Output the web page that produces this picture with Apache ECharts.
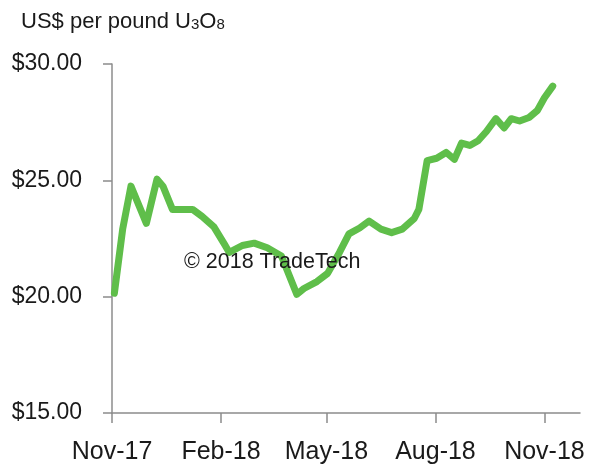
<!DOCTYPE html>
<html>
<head>
<meta charset="utf-8">
<title>U3O8 spot price</title>
<script src="https://cdn.jsdelivr.net/npm/echarts@6/dist/echarts.min.js"></script>
<style>
  html, body { margin: 0; padding: 0; background: #fff; }
  #chart { width: 589px; height: 471px; }
</style>
</head>
<body>
<div id="chart"></div>
<script>
// weekly spot price readings (US$ per pound U3O8)
var priceDates = [
  '2017-11-03', '2017-11-10', '2017-11-17', '2017-11-30', '2017-12-09', '2017-12-14',
  '2017-12-22', '2018-01-08', '2018-01-16', '2018-01-26', '2018-02-04', '2018-02-08',
  '2018-02-19', '2018-03-01', '2018-03-12', '2018-03-24', '2018-04-06', '2018-04-12',
  '2018-04-23', '2018-05-02', '2018-05-12', '2018-05-20', '2018-05-29', '2018-06-06',
  '2018-06-16', '2018-06-25', '2018-07-04', '2018-07-14', '2018-07-18', '2018-07-25',
  '2018-08-02', '2018-08-10', '2018-08-17', '2018-08-23', '2018-08-30', '2018-09-06',
  '2018-09-13', '2018-09-21', '2018-09-28', '2018-10-04', '2018-10-11', '2018-10-19',
  '2018-10-26', '2018-11-01', '2018-11-08'
];
var prices = [
  20.15, 22.90, 24.75, 23.15, 25.05, 24.75,
  23.75, 23.75, 23.45, 23.00, 22.25, 21.90,
  22.20, 22.30, 22.10, 21.75, 20.10, 20.35,
  20.65, 21.00, 21.90, 22.70, 22.95, 23.25,
  22.90, 22.75, 22.90, 23.35, 23.75, 25.85,
  25.95, 26.20, 25.90, 26.60, 26.50, 26.70,
  27.10, 27.65, 27.25, 27.65, 27.55, 27.70,
  28.00, 28.55, 29.05
];
var yTicks = [15, 20, 25, 30];
var tickMonths = ['11', '02', '05', '08'];
var monthNames = {'11': 'Nov', '02': 'Feb', '05': 'May', '08': 'Aug'};

// one category per day, Nov-17 .. Dec-18
var categories = [];
var start = Date.UTC(2017, 10, 1), end = Date.UTC(2018, 11, 1);
for (var t = start; t <= end; t += 86400000) {
  categories.push(new Date(t).toISOString().slice(0, 10));
}

function isTickDay(d) {
  return d.slice(8) === '01' && tickMonths.indexOf(d.slice(5, 7)) >= 0;
}

var chart = echarts.init(document.getElementById('chart'));
var font = '"Liberation Sans", Arial, sans-serif';

chart.setOption({
  animation: false,
  grid: { left: 112, right: 9, top: 64, bottom: 58, outerBoundsMode: 'none', containLabel: false },
  title: {
    text: '{a|US$ per pound U}{b|3}{a|O}{b|8}',
    left: 16,
    top: 6,
    textStyle: {
      fontWeight: 'normal',
      rich: {
        a: { fontFamily: font, fontSize: 22, fontWeight: 'normal', color: '#1a1a1a' },
        b: { fontFamily: font, fontSize: 15, fontWeight: 'normal', color: '#1a1a1a', verticalAlign: 'bottom', padding: [0, 0, 1, 0] }
      }
    }
  },
  graphic: [{
    type: 'text',
    left: 184,
    top: 251,
    z: 100,
    style: {
      text: '\u00a9 2018 TradeTech',
      font: '21.5px "Liberation Sans", Arial, sans-serif',
      fill: '#1a1a1a'
    }
  }],
  xAxis: {
    type: 'category',
    data: categories,
    boundaryGap: false,
    axisLine: { lineStyle: { color: '#8c8c8c', width: 1.5 } },
    axisTick: {
      length: 10,
      interval: function (i, d) { return isTickDay(d); },
      lineStyle: { color: '#8c8c8c', width: 1.5 }
    },
    axisLabel: {
      interval: function (i, d) { return isTickDay(d); },
      formatter: function (d) { return monthNames[d.slice(5, 7)] + '-' + d.slice(2, 4); },
      margin: 27,
      fontFamily: font,
      fontSize: 25,
      color: '#1a1a1a'
    },
    splitLine: { show: false }
  },
  yAxis: {
    type: 'value',
    min: yTicks[0],
    max: yTicks[yTicks.length - 1],
    interval: 5,
    axisLine: { show: true, lineStyle: { color: '#8c8c8c', width: 1.5 } },
    axisTick: { show: true, length: 9, lineStyle: { color: '#8c8c8c', width: 1.5 } },
    axisLabel: {
      margin: 30,
      fontFamily: font,
      fontSize: 23,
      color: '#1a1a1a',
      formatter: function (v) { return '$' + v.toFixed(2); }
    },
    splitLine: { show: false }
  },
  series: [{
    type: 'line',
    data: priceDates.map(function (d, i) { return [d, prices[i]]; }),
    symbol: 'none',
    smooth: false,
    lineStyle: { color: '#5fbe4a', width: 7, cap: 'round', join: 'round' }
  }]
});
</script>
</body>
</html>
